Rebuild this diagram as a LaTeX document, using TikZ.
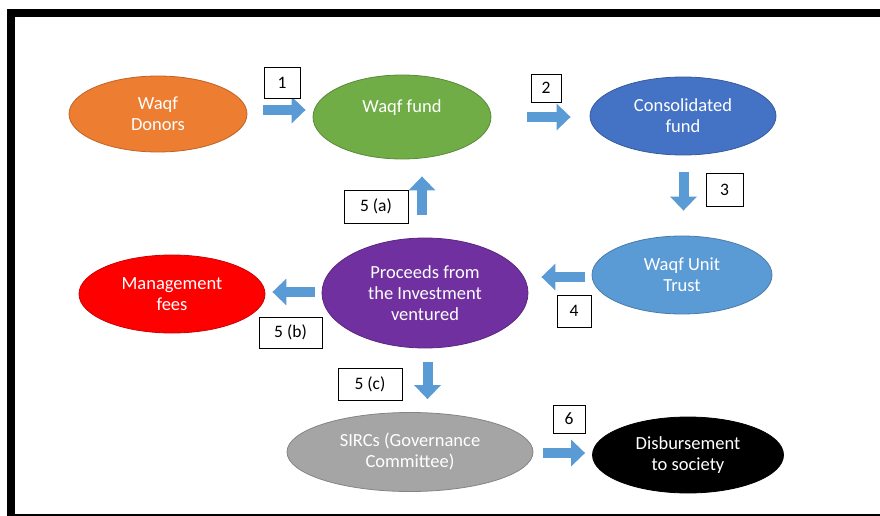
\documentclass[tikz,border=0pt]{standalone}
\usepackage{fontspec}
\setmainfont{Carlito}
\usetikzlibrary{shapes.geometric,arrows.meta}
\definecolor{donorc}{HTML}{ED7D31}
\definecolor{fundc}{HTML}{70AD47}
\definecolor{consolc}{HTML}{4472C4}
\definecolor{unitc}{HTML}{5B9BD5}
\definecolor{proceedc}{HTML}{7030A0}
\definecolor{feec}{HTML}{FF0000}
\definecolor{sircc}{HTML}{A5A5A5}
\definecolor{arrowc}{HTML}{5B9BD5}

\begin{document}
\begin{tikzpicture}
  [x=1pt,y=-1pt,
   every node/.style={font=\fontsize{18.5}{21}\selectfont},
   oval/.style={ellipse,inner sep=0pt,text=white,align=center,line width=0.8pt},
   numbox/.style={draw,rectangle,fill=white,line width=0.8pt,inner sep=0pt,
                  font=\fontsize{17.5}{19}\selectfont},
   flow/.style={draw=arrowc,line width=10pt,-{Triangle[width=26pt,length=14pt]}}]

  \useasboundingbox (0,0) rectangle (880,516);
  \fill (7,9) rectangle (880,17);
  \fill (7,9) rectangle (15,516);
  \fill (15,513.5) rectangle (880,515.5);

  \node[oval,fill=donorc,draw=donorc!80!black,minimum width=178pt,minimum height=76pt]
        (donors) at (158,114) {Waqf\\Donors};
  \node[oval,fill=fundc,draw=fundc!80!black,minimum width=178pt,minimum height=84pt]
        (fund) at (402,117) {Waqf fund\\ \mbox{}};
  \node[oval,fill=consolc,draw=consolc!80!black,minimum width=186pt,minimum height=78pt]
        (consol) at (683,116) {Consolidated\\fund};
  \node[oval,fill=unitc,draw=unitc!80!black,minimum width=180pt,minimum height=78pt]
        (unit) at (682,275) {Waqf Unit\\Trust};
  \node[oval,fill=proceedc,draw=proceedc!80!black,minimum width=206pt,minimum height=110pt]
        (proceeds) at (425,293) {Proceeds from\\the Investment\\ventured};
  \node[oval,fill=feec,draw=feec!80!black,minimum width=186pt,minimum height=78pt]
        (fees) at (172,294) {Management\\fees};
  \node[oval,fill=sircc,draw=sircc!80!black,minimum width=246pt,minimum height=79pt]
        (sircs) at (410,452) {SIRCs (Governance\\Committee)};
  \node[oval,fill=black,draw=black,minimum width=191pt,minimum height=76pt]
        (disb) at (688,455) {Disbursement\\to society};

  \draw[flow] ([shift={(16,-4)}]donors.east) -- ([shift={(-7,-7)}]fund.west);
  \draw[flow] ([shift={(36,0)}]fund.east) -- ([shift={(-19,1)}]consol.west);
  \draw[flow] ([shift={(0.5,17)}]consol.south) -- ([shift={(1.5,-25)}]unit.north);
  \draw[flow] ([shift={(-7,2)}]unit.west) -- ([shift={(13,-16)}]proceeds.east);
  \draw[flow] ([shift={(-3,-23)}]proceeds.north) -- ([shift={(20,17)}]fund.south);
  \draw[flow] ([shift={(-7,-1)}]proceeds.west) -- ([shift={(7,-2)}]fees.east);
  \draw[flow] ([shift={(2.5,14)}]proceeds.south) -- ([shift={(17.5,-13)}]sircs.north);
  \draw[flow] ([shift={(10,1)}]sircs.east) -- ([shift={(-7,-2)}]disb.west);

  \node[numbox,minimum width=36pt,minimum height=31pt] (n1) at (282,82.5) {1};
  \node[numbox,minimum width=30pt,minimum height=28pt] (n2) at (546,88) {2};
  \node[numbox,minimum width=37pt,minimum height=33pt] (n3) at (724.5,189.5) {3};
  \node[numbox,minimum width=34pt,minimum height=32pt] (n4) at (574,311) {4};
  \node[numbox,minimum width=64pt,minimum height=33pt] (n5a) at (376,206.5) {5 (a)};
  \node[numbox,minimum width=63pt,minimum height=31pt] (n5b) at (290.5,332.5) {5 (b)};
  \node[numbox,minimum width=64pt,minimum height=32pt] (n5c) at (370,384) {5 (c)};
  \node[numbox,minimum width=32pt,minimum height=28pt] (n6) at (569,419) {6};
\end{tikzpicture}
\end{document}
